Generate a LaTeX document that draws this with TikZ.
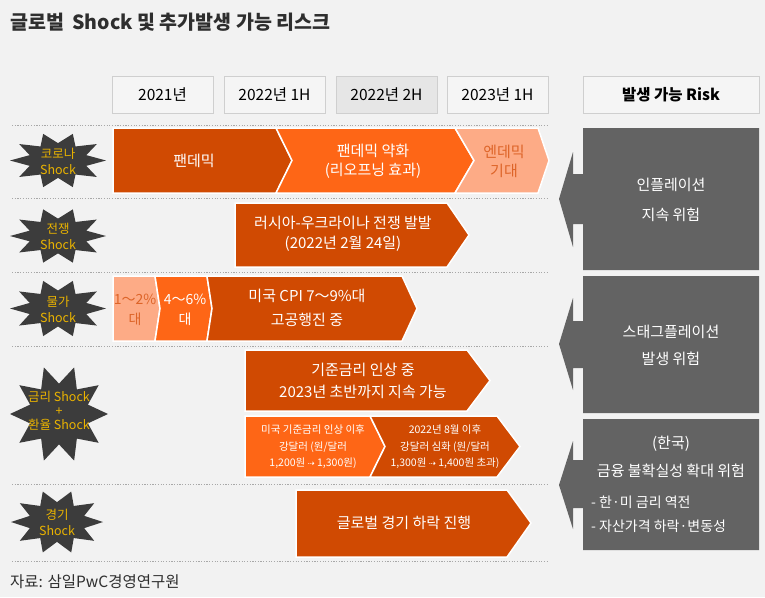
\documentclass[tikz,border=0pt]{standalone}
\usepackage{fontspec}
\setmainfont{Noto Sans CJK KR}
\newfontfamily\symfont{DejaVu Sans}
\newcommand\fsz[2]{\fontsize{#1}{#2}\selectfont}
\newcommand\darr{{\symfont\fontsize{8.5}{10}\selectfont ⇢}}
\definecolor{bg}{HTML}{F2F2F2}
\definecolor{dkor}{HTML}{D04A02}
\definecolor{mdor}{HTML}{FE6616}
\definecolor{ltor}{HTML}{FDAB86}
\definecolor{ortxt}{HTML}{DD6428}
\definecolor{riskgray}{HTML}{636363}
\definecolor{stargray}{HTML}{3C3C3C}
\definecolor{gold}{HTML}{EAB300}
\definecolor{dotgray}{HTML}{A8A8A8}
\definecolor{hdrbd}{HTML}{CFCFCF}
\definecolor{hdrfill}{HTML}{F5F5F5}
\definecolor{hdrdark}{HTML}{E6E6E6}
\definecolor{titletxt}{HTML}{2E2E2E}
\newcommand\burst[4]{\fill[stargray] plot[samples at={0,18,...,342}, variable=\a]
  ({#1+#3*(mod(\a,36)==0?1:0.62)*cos(\a)},{#2+#4*(mod(\a,36)==0?1:0.62)*sin(\a)}) -- cycle;}
\begin{document}
\begin{tikzpicture}[x=1pt,y=-1pt,
  chev/.style={draw=white,line width=1.5pt,line join=miter},
  ctext/.style={text=white,align=center,inner sep=0pt,font=\fsz{15}{20}},
  otext/.style={text=ortxt,align=center,inner sep=0pt,font=\fsz{15}{20}},
  stext/.style={text=gold,align=center,inner sep=0pt,font=\fsz{12.5}{16}},
  rtext/.style={text=white,align=center,inner sep=0pt,font=\fsz{15}{30}},
  hdr/.style={draw=hdrbd,fill=hdrfill,minimum width=101pt,minimum height=37pt,inner sep=0pt,font=\fsz{15.5}{18}},
  dotline/.style={dotgray,line width=0.9pt,dash pattern=on 1.2pt off 1.5pt}]
\useasboundingbox (0,0) rectangle (765,597);
\fill[bg] (0,0) rectangle (765,597);

% title
\node[anchor=west,inner sep=0pt,text=titletxt,font=\bfseries\fsz{19.5}{22}] (title) at (10,22) {글로벌\hspace{4pt} Shock 및 추가발생 가능 리스크};

% headers
\node[hdr] (h1) at (162.5,95) {2021년};
\node[hdr] (h2) at (274.5,95) {2022년 1H};
\node[hdr,fill=hdrdark] (h3) at (386.5,95) {2022년 2H};
\node[hdr] (h4) at (497.5,95) {2023년 1H};
\node[hdr,minimum width=176pt,font=\bfseries\fsz{15.5}{18}] (hr) at (671,95) {발생 가능 Risk};

% dotted separators
\foreach \yy in {125,198,272,346,484,561} \draw[dotline] (12,\yy) -- (549,\yy);

% stars
\burst{58}{160.5}{48}{28}
\node[stext] (s1) at (58,161) {코로나\\Shock};
\burst{58}{236}{48}{28}
\node[stext] (s2) at (58,236) {전쟁\\Shock};
\burst{58}{308.5}{48}{29}
\node[stext] (s3) at (58,309) {물가\\Shock};
\burst{59}{414}{49}{49}
\node[stext,font=\fsz{12.5}{14}] (s4) at (59,411) {금리 Shock\\+\\환율 Shock};
\burst{57}{522}{46}{32}
\node[stext] (s5) at (57,522) {경기\\Shock};

% row 1
\filldraw[chev,fill=dkor] (113,128) -- (276,128) -- (292,160.5) -- (276,193) -- (113,193) -- cycle;
\filldraw[chev,fill=mdor] (276,128) -- (455,128) -- (474,160.5) -- (455,193) -- (276,193) -- (292,160.5) -- cycle;
\filldraw[chev,fill=ltor] (455,128) -- (538,128) -- (549,160.5) -- (538,193) -- (455,193) -- (474,160.5) -- cycle;
\node[ctext] (t11) at (194,160.5) {팬데믹};
\node[ctext,font=\fsz{15}{19}] (t12) at (373,161) {팬데믹 약화\\(리오프닝 효과)};
\node[otext,font=\fsz{15}{19}] (t13) at (504,161) {엔데믹\\기대};

% row 2
\filldraw[chev,fill=dkor] (235,203) -- (447,203) -- (469,235) -- (447,267) -- (235,267) -- cycle;
\node[ctext] (t2) at (343,233.5) {러시아-우크라이나 전쟁 발발\\(2022년 2월 24일)};

% row 3
\filldraw[chev,fill=ltor] (113,276) -- (155,276) -- (160,308.5) -- (155,341) -- (113,341) -- cycle;
\filldraw[chev,fill=mdor] (155,276) -- (207,276) -- (212,308.5) -- (207,341) -- (155,341) -- (160,308.5) -- cycle;
\filldraw[chev,fill=dkor] (207,276) -- (402,276) -- (417,308.5) -- (402,341) -- (207,341) -- (212,308.5) -- cycle;
\node[otext,font=\fsz{14}{20}] (t31) at (135,309.5) {1～2\%\\대};
\node[ctext,font=\fsz{14}{20}] (t32) at (185,309.5) {4～6\%\\대};
\node[ctext,font=\fsz{15}{24}] (t33) at (307,307.5) {미국 CPI 7～9\%대\\고공행진 중};

% row 4
\filldraw[chev,fill=dkor] (245,350) -- (467,350) -- (490,380.5) -- (467,411) -- (245,411) -- cycle;
\node[ctext,font=\fsz{15}{22}] (t4) at (363,381) {기준금리 인상 중\\2023년 초반까지 지속 가능};
\filldraw[chev,fill=mdor] (245,416) -- (370,416) -- (385,446.5) -- (370,477) -- (245,477) -- cycle;
\filldraw[chev,fill=dkor] (370,416) -- (497,416) -- (520,446.5) -- (497,477) -- (370,477) -- (385,446.5) -- cycle;
\node[ctext,font=\fsz{10.5}{16.5}] (t41) at (313,447) {미국 기준금리 인상 이후\\강달러 (원/달러\\1,200원 \darr{} 1,300원)};
\node[ctext,font=\fsz{10.5}{16.5}] (t42) at (445,447) {2022년 8월 이후\\강달러 심화 (원/달러\\1,300원 \darr{} 1,400원 초과)};

% row 5
\filldraw[chev,fill=dkor] (296,490) -- (507,490) -- (531,523) -- (507,557) -- (296,557) -- cycle;
\node[ctext] (t5) at (404,523) {글로벌 경기 하락 진행};

% risk boxes
\fill[riskgray] (759,128) -- (583,128) -- (583,174) -- (573,174) -- (573,152) -- (559,199) -- (573,247) -- (573,224) -- (583,224) -- (583,270) -- (759,270) -- cycle;
\node[rtext] (rA) at (671,200) {인플레이션\\지속 위험};
\fill[riskgray] (759,276) -- (583,276) -- (583,321) -- (573,321) -- (573,298) -- (559,344) -- (573,390) -- (573,368) -- (583,368) -- (583,413) -- (759,413) -- cycle;
\node[rtext,font=\fsz{15}{27}] (rB) at (671,345.5) {스태그플레이션\\발생 위험};
\fill[riskgray] (759,419) -- (583,419) -- (583,460) -- (573,460) -- (573,441) -- (559,485) -- (573,529) -- (573,508) -- (583,508) -- (583,550) -- (759,550) -- cycle;
\node[rtext,font=\fsz{15}{28}] (rC) at (671,457) {(한국)\\금융 불확실성 확대 위험};
\node[anchor=west,text=white,align=left,inner sep=0pt,font=\fsz{14}{24}] (rC2) at (591,514) {- 한·미 금리 역전\\- 자산가격 하락·변동성};

% source
\node[anchor=west,inner sep=0pt,text=titletxt,font=\fsz{15.5}{18}] (src) at (10,582) {자료: 삼일PwC경영연구원};
\end{tikzpicture}
\end{document}
